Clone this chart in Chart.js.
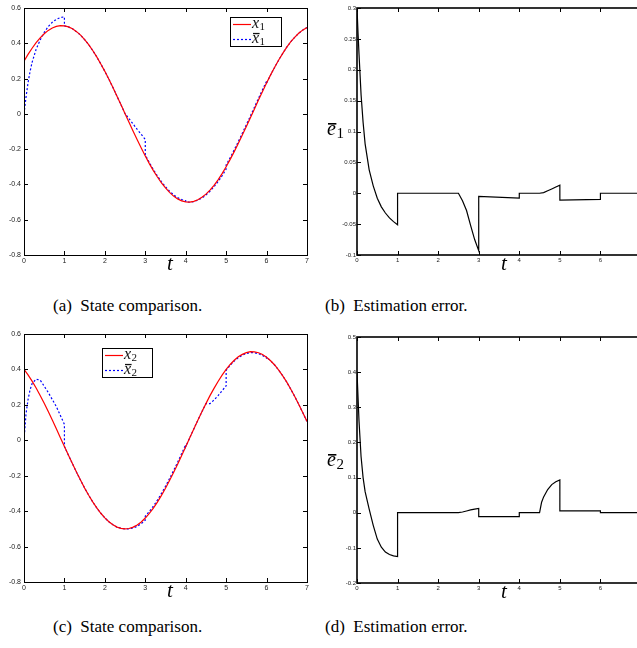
<!DOCTYPE html>
<html lang="en">

<head>
    <meta charset="UTF-8">
    <title>State comparison and estimation error</title>
    <style>
        body {
            margin: 0;
            width: 637px;
            height: 648px;
            overflow: hidden;
            background: #fff;
            position: relative;
        }

        canvas {
            position: absolute;
        }

        .cap {
            position: absolute;
            font-family: "Liberation Serif", "Times New Roman", Times, "DejaVu Serif", serif;
            font-size: 17px;
            line-height: 20px;
            color: #000;
            white-space: pre;
        }
    </style>
    <script src="https://cdn.jsdelivr.net/npm/chart.js"></script>
</head>

<body>
    <canvas id="chartA" width="318" height="285" style="left:0;top:0"></canvas>
    <canvas id="chartB" width="330" height="285" style="left:318px;top:0"></canvas>
    <canvas id="chartC" width="318" height="290" style="left:0;top:320px"></canvas>
    <canvas id="chartD" width="330" height="290" style="left:318px;top:320px"></canvas>

    <div class="cap" style="left:53px;top:296px">(a)  State comparison.</div>
    <div class="cap" style="left:325px;top:296px">(b)  Estimation error.</div>
    <div class="cap" style="left:53px;top:617px">(c)  State comparison.</div>
    <div class="cap" style="left:325px;top:617px">(d)  Estimation error.</div>

    <script>
        var SERIF = '"Liberation Serif", "Times New Roman", Times, "DejaVu Serif", serif';

        // time grid used by the true states
        var tGrid = [0, 0.1, 0.2, 0.3, 0.4, 0.5, 0.6, 0.7, 0.8, 0.9,
            1, 1.1, 1.2, 1.3, 1.4, 1.5, 1.6, 1.7, 1.8, 1.9,
            2, 2.1, 2.2, 2.3, 2.4, 2.5, 2.6, 2.7, 2.8, 2.9,
            3, 3.1, 3.2, 3.3, 3.4, 3.5, 3.6, 3.7, 3.8, 3.9,
            4, 4.1, 4.2, 4.3, 4.4, 4.5, 4.6, 4.7, 4.8, 4.9,
            5, 5.1, 5.2, 5.3, 5.4, 5.5, 5.6, 5.7, 5.8, 5.9,
            6, 6.1, 6.2, 6.3, 6.4, 6.5, 6.6, 6.7, 6.8, 6.9, 7];

        var x1 = [0.299, 0.337, 0.372, 0.404, 0.431, 0.454, 0.473, 0.487, 0.496, 0.500,
            0.499, 0.493, 0.482, 0.466, 0.446, 0.421, 0.392, 0.359, 0.323, 0.283,
            0.241, 0.196, 0.149, 0.100, 0.051, 0.001, -0.049, -0.099, -0.147, -0.194,
            -0.239, -0.282, -0.322, -0.358, -0.391, -0.420, -0.445, -0.466, -0.482, -0.493,
            -0.499, -0.500, -0.496, -0.487, -0.473, -0.455, -0.432, -0.405, -0.374, -0.339,
            -0.300, -0.258, -0.214, -0.168, -0.120, -0.071, -0.022, 0.028, 0.078, 0.127,
            0.175, 0.221, 0.264, 0.305, 0.343, 0.378, 0.409, 0.435, 0.458, 0.476, 0.489];

        var x2 = [0.401, 0.369, 0.334, 0.295, 0.253, 0.209, 0.162, 0.114, 0.065, 0.015,
            -0.035, -0.084, -0.133, -0.181, -0.226, -0.270, -0.310, -0.348, -0.382, -0.412,
            -0.438, -0.460, -0.477, -0.490, -0.497, -0.500, -0.498, -0.490, -0.478, -0.461,
            -0.439, -0.413, -0.383, -0.349, -0.311, -0.271, -0.227, -0.182, -0.135, -0.086,
            -0.036, 0.014, 0.064, 0.113, 0.161, 0.207, 0.252, 0.293, 0.332, 0.368,
            0.400, 0.428, 0.452, 0.471, 0.485, 0.495, 0.500, 0.499, 0.494, 0.484,
            0.469, 0.449, 0.425, 0.396, 0.364, 0.328, 0.288, 0.246, 0.201, 0.154, 0.106];

        // estimated states (with jumps, so their own time arrays)
        var x1barT = [0, 0.05, 0.1, 0.15, 0.2, 0.3, 0.4, 0.5, 0.6, 0.7, 0.8, 0.9, 1,
            1, 1.1, 1.2, 1.3, 1.4, 1.5, 1.6, 1.7, 1.8, 1.9, 2, 2.1, 2.2, 2.3, 2.4, 2.5,
            2.6, 2.7, 2.8, 2.9, 3,
            3, 3.1, 3.2, 3.3, 3.4, 3.5, 3.6, 3.7, 3.8, 3.9, 4,
            4, 4.1, 4.2, 4.3, 4.4, 4.5, 4.6, 4.7, 4.8, 4.9, 5,
            5, 5.1, 5.2, 5.3, 5.4, 5.5, 5.6, 5.7, 5.8, 5.9, 6,
            6, 6.1, 6.2, 6.3, 6.4, 6.5, 6.6, 6.7, 6.8, 6.9, 7];
        var x1barY = [0, 0.095, 0.177, 0.240, 0.292, 0.366, 0.419, 0.462, 0.495, 0.519, 0.536, 0.546, 0.550,
            0.499, 0.493, 0.482, 0.466, 0.446, 0.421, 0.392, 0.359, 0.323, 0.283, 0.241, 0.196, 0.149, 0.100, 0.051, 0.001,
            -0.028, -0.058, -0.088, -0.116, -0.145,
            -0.233, -0.276, -0.316, -0.352, -0.385, -0.414, -0.438, -0.459, -0.475, -0.486, -0.492,
            -0.499, -0.500, -0.497, -0.489, -0.477, -0.460, -0.439, -0.413, -0.384, -0.351, -0.313,
            -0.289, -0.248, -0.204, -0.158, -0.110, -0.061, -0.012, 0.038, 0.088, 0.137, 0.185,
            0.175, 0.221, 0.264, 0.305, 0.343, 0.378, 0.409, 0.435, 0.458, 0.476, 0.489];

        var x2barT = [0, 0.05, 0.1, 0.15, 0.2, 0.3, 0.4, 0.5, 0.6, 0.7, 0.8, 0.9, 1,
            1, 1.1, 1.2, 1.3, 1.4, 1.5, 1.6, 1.7, 1.8, 1.9, 2, 2.1, 2.2, 2.3, 2.4, 2.5,
            2.6, 2.7, 2.8, 2.9, 3,
            3, 3.1, 3.2, 3.3, 3.4, 3.5, 3.6, 3.7, 3.8, 3.9, 4,
            4, 4.1, 4.2, 4.3, 4.4, 4.5, 4.6, 4.7, 4.8, 4.9, 5,
            5, 5.1, 5.2, 5.3, 5.4, 5.5, 5.6, 5.7, 5.8, 5.9, 6,
            6, 6.1, 6.2, 6.3, 6.4, 6.5, 6.6, 6.7, 6.8, 6.9, 7];
        var x2barY = [0, 0.150, 0.230, 0.285, 0.320, 0.345, 0.340, 0.305, 0.270, 0.230, 0.190, 0.140, 0.090,
            -0.035, -0.084, -0.133, -0.181, -0.226, -0.270, -0.310, -0.348, -0.382, -0.412, -0.438, -0.460, -0.477, -0.490, -0.497, -0.500,
            -0.500, -0.495, -0.486, -0.471, -0.451,
            -0.428, -0.402, -0.372, -0.338, -0.300, -0.260, -0.216, -0.171, -0.124, -0.075, -0.025,
            -0.036, 0.014, 0.064, 0.113, 0.161, 0.207, 0.207, 0.227, 0.252, 0.280, 0.307,
            0.395, 0.423, 0.447, 0.466, 0.480, 0.490, 0.495, 0.494, 0.489, 0.479, 0.464,
            0.469, 0.449, 0.425, 0.396, 0.364, 0.328, 0.288, 0.246, 0.201, 0.154, 0.106];

        // estimation errors
        var e1T = [0, 0.025, 0.05, 0.1, 0.15, 0.2, 0.3, 0.4, 0.5, 0.6, 0.7, 0.8, 0.9, 1,
            1, 2.5, 2.6, 2.7, 2.8, 2.9, 3, 3, 4, 4, 4.5, 4.6, 4.7, 4.8, 4.9, 5, 5, 6, 6, 7];
        var e1Y = [0.300, 0.260, 0.225, 0.160, 0.115, 0.080, 0.038, 0.012, -0.008, -0.022, -0.032, -0.040, -0.046, -0.051,
            0, 0, -0.012, -0.028, -0.052, -0.075, -0.093, -0.005, -0.008, 0, 0, 0.001, 0.004, 0.007, 0.010, 0.013,
            -0.011, -0.010, 0, 0];

        var e2T = [0, 0.025, 0.05, 0.1, 0.15, 0.2, 0.3, 0.4, 0.5, 0.6, 0.7, 0.8, 0.9, 1,
            1, 2.5, 2.6, 2.7, 2.8, 2.9, 3, 3, 4, 4, 4.5, 4.55, 4.6, 4.7, 4.8, 4.9, 5, 5, 6, 6, 7];
        var e2Y = [0.400, 0.330, 0.260, 0.160, 0.100, 0.060, 0.010, -0.036, -0.075, -0.098, -0.112, -0.119, -0.123, -0.125,
            0, 0, 0.002, 0.005, 0.008, 0.010, 0.012, -0.011, -0.011, 0, 0, 0.030, 0.045, 0.066, 0.080, 0.088, 0.093,
            0.005, 0.005, 0, 0];

        function pts(ts, ys) {
            return ts.map(function (t, i) { return { x: t, y: ys[i] }; });
        }

        function mathText(ctx, m) {
            ctx.font = 'italic ' + m.size + 'px ' + SERIF;
            ctx.textBaseline = 'alphabetic';
            ctx.textAlign = 'left';
            ctx.fillText(m.base, m.x, m.y);
            var w = ctx.measureText(m.base).width;
            if (m.bar) {
                ctx.fillRect(m.x + 1, m.y - m.size * 0.6, w - 0.5, Math.max(1.3, m.size * 0.08));
            }
            if (m.sub) {
                ctx.font = m.subSize + 'px ' + SERIF;
                ctx.fillText(m.sub, m.x + w + 0.5, m.y + m.size * 0.15);
            }
        }

        // box, inward ticks, math labels and legend (MATLAB look)
        var framePlugin = {
            id: 'frame',
            afterDraw: function (chart, args, o) {
                var ctx = chart.ctx, a = chart.chartArea;
                var sx = chart.scales.x, sy = chart.scales.y;
                ctx.save();
                ctx.strokeStyle = '#000';
                ctx.lineWidth = o.width;
                var off = o.width === 1 ? 0.5 : 0;
                ctx.strokeRect(a.left + off, a.top + off, a.right - a.left, a.bottom - a.top);
                ctx.lineWidth = 1;
                ctx.beginPath();
                sx.ticks.forEach(function (tk) {
                    var p = Math.round(sx.getPixelForValue(tk.value)) + 0.5;
                    ctx.moveTo(p, a.bottom); ctx.lineTo(p, a.bottom - o.tick);
                    ctx.moveTo(p, a.top); ctx.lineTo(p, a.top + o.tick);
                });
                sy.ticks.forEach(function (tk) {
                    var p = Math.round(sy.getPixelForValue(tk.value)) + 0.5;
                    ctx.moveTo(a.left, p); ctx.lineTo(a.left + o.tick, p);
                    ctx.moveTo(a.right, p); ctx.lineTo(a.right - o.tick, p);
                });
                ctx.stroke();

                ctx.fillStyle = '#000';
                (o.labels || []).forEach(function (l) { mathText(ctx, l); });

                if (o.legend) {
                    var L = o.legend;
                    ctx.fillStyle = '#fff';
                    ctx.fillRect(L.x, L.y, L.w, L.h);
                    ctx.strokeStyle = '#000';
                    ctx.lineWidth = 1;
                    ctx.strokeRect(L.x + 0.5, L.y + 0.5, L.w, L.h);
                    chart.data.datasets.forEach(function (ds, i) {
                        var cy = L.y + 7.5 + 15 * i;
                        ctx.strokeStyle = ds.borderColor;
                        ctx.lineWidth = ds.borderWidth;
                        ctx.setLineDash(ds.borderDash || []);
                        ctx.beginPath();
                        ctx.moveTo(L.x + 3, cy);
                        ctx.lineTo(L.x + 21, cy);
                        ctx.stroke();
                        ctx.setLineDash([]);
                        ctx.fillStyle = '#111';
                        mathText(ctx, { x: L.x + 22, y: cy + 3, base: ds.math.base, sub: ds.math.sub, bar: ds.math.bar, size: 16, subSize: 11 });
                    });
                }
                ctx.restore();
            }
        };

        function axes(p) {
            var tickFont = { family: '"Liberation Sans", Arial, Helvetica, sans-serif', size: p.fs };
            return {
                x: {
                    type: 'linear', min: 0, max: 7,
                    grid: { display: false, drawTicks: false },
                    border: { display: false },
                    ticks: { stepSize: 1, padding: 2, font: tickFont, color: '#222', maxRotation: 0, autoSkip: false },
                    afterFit: function (s) { s.height = p.xH; s.paddingLeft = 0; s.paddingRight = 0; }
                },
                y: {
                    type: 'linear', min: p.yMin, max: p.yMax,
                    grid: { display: false, drawTicks: false },
                    border: { display: false },
                    ticks: {
                        stepSize: p.yStep, padding: p.yPad, font: tickFont, color: '#222', autoSkip: false,
                        callback: function (v) { return String(+v.toFixed(2)); }
                    },
                    afterFit: function (s) { s.width = p.yW; s.paddingTop = 0; s.paddingBottom = 0; }
                }
            };
        }

        function makeChart(id, datasets, p, frame) {
            new Chart(document.getElementById(id), {
                type: 'line',
                data: { datasets: datasets },
                plugins: [framePlugin],
                options: {
                    responsive: false,
                    animation: false,
                    parsing: false,
                    layout: { autoPadding: false, padding: { left: 0, right: p.right, top: p.top, bottom: 0 } },
                    elements: { point: { radius: 0 }, line: { tension: 0 } },
                    plugins: { legend: { display: false }, tooltip: { enabled: false }, frame: frame },
                    scales: axes(p)
                }
            });
        }

        makeChart('chartA', [
            { label: 'x1', math: { base: 'x', sub: '1' }, data: pts(tGrid, x1), borderColor: '#ff0000', borderWidth: 1.2 },
            { label: 'x1 bar', math: { base: 'x', sub: '1', bar: true }, data: pts(x1barT, x1barY), borderColor: '#0000ff', borderWidth: 1.2, borderDash: [2, 2] }
        ], { yMin: -0.8, yMax: 0.6, yStep: 0.2, yW: 24, xH: 30, fs: 7, yPad: 3, right: 11, top: 8 },
            {
                width: 1, tick: 4,
                labels: [{ x: 167, y: 270, base: 't', size: 21 }],
                legend: { x: 230, y: 17, w: 51, h: 29 }
            });

        makeChart('chartB', [
            { label: 'e1 bar', data: pts(e1T, e1Y), borderColor: '#000', borderWidth: 1.2 }
        ], { yMin: -0.1, yMax: 0.3, yStep: 0.05, yW: 39, xH: 30, fs: 6, yPad: 1, right: 7, top: 8 },
            {
                width: 1.6, tick: 4,
                labels: [
                    { x: 183, y: 270, base: 't', size: 21 },
                    { x: 9, y: 135, base: 'e', sub: '1', bar: true, size: 20, subSize: 15 }
                ]
            });

        makeChart('chartC', [
            { label: 'x2', math: { base: 'x', sub: '2' }, data: pts(tGrid, x2), borderColor: '#ff0000', borderWidth: 1.2 },
            { label: 'x2 bar', math: { base: 'x', sub: '2', bar: true }, data: pts(x2barT, x2barY), borderColor: '#0000ff', borderWidth: 1.2, borderDash: [2, 2] }
        ], { yMin: -0.8, yMax: 0.6, yStep: 0.2, yW: 24, xH: 28, fs: 7, yPad: 3, right: 11, top: 14 },
            {
                width: 1, tick: 4,
                labels: [{ x: 167, y: 277, base: 't', size: 21 }],
                legend: { x: 102, y: 28, w: 50, h: 29 }
            });

        makeChart('chartD', [
            { label: 'e2 bar', data: pts(e2T, e2Y), borderColor: '#000', borderWidth: 1.2 }
        ], { yMin: -0.2, yMax: 0.5, yStep: 0.1, yW: 39, xH: 27, fs: 6, yPad: 1, right: 7, top: 17 },
            {
                width: 1.6, tick: 4,
                labels: [
                    { x: 183, y: 278, base: 't', size: 21 },
                    { x: 9, y: 146, base: 'e', sub: '2', bar: true, size: 20, subSize: 15 }
                ]
            });
    </script>
</body>

</html>
